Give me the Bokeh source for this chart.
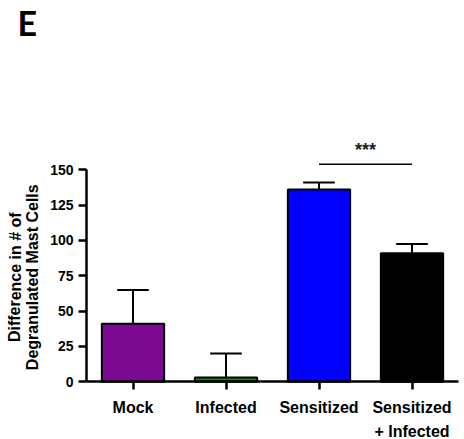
from bokeh.plotting import figure
from bokeh.models import FixedTicker, Label, Range1d, LinearAxis
from bokeh.embed import file_html
from bokeh.resources import INLINE

categories = ["Mock", "Infected", "Sensitized", "Sensitized\n+ Infected"]
means = [41, 3, 136, 91]
err_upper = [65, 20, 141, 97.5]
colors = ["#7b0a91", "#0b8a0b", "#0000ff", "#000000"]
sig_pair = [2, 3]
sig_y = 154
sig_text = "***"
y_ticks = [0, 25, 50, 75, 100, 125, 150]
y_max_tick = 150
panel_letter = "E"
y_label_lines = ["Difference in # of", "Degranulated Mast Cells"]

FONT = "Liberation Sans"
W, H = 464, 439

xs = list(range(len(categories)))

# pixel geometry of the plotting area (page coords)
AX_LEFT, AX_RIGHT = 86.0, 458.0     # x of -0.5 and 3.5
AX_ZERO, AX_150 = 381.3, 169.3      # y of 0 and 150
px_x = (AX_RIGHT - AX_LEFT) / 4.0
px_y = (AX_ZERO - AX_150) / 150.0

def dx(px):
    return -0.5 + (px - AX_LEFT) / px_x

def dy(py):
    return (AX_ZERO - py) / px_y

p = figure(width=W, height=H, output_backend="svg", toolbar_location=None,
           x_range=Range1d(dx(0), dx(W)), y_range=Range1d(dy(H), dy(0)),
           x_axis_type=None, y_axis_type=None, min_border=0)
p.outline_line_color = None
p.background_fill_color = "white"
p.border_fill_color = "white"
p.xgrid.visible = False
p.ygrid.visible = False

# bars
p.vbar(x=xs, top=means, bottom=0, width=0.67, fill_color=colors,
       line_color="black", line_width=2)

# error bars (upper only)
p.segment(x0=xs, y0=means, x1=xs, y1=err_upper, line_color="black", line_width=2)
p.segment(x0=[x - 0.17 for x in xs], y0=err_upper, x1=[x + 0.17 for x in xs],
          y1=err_upper, line_color="black", line_width=2)

# significance
p.segment(x0=[sig_pair[0]], y0=[sig_y], x1=[sig_pair[1]], y1=[sig_y],
          line_color="black", line_width=1.5)
p.add_layout(Label(x=(sig_pair[0] + sig_pair[1]) / 2, y=dy(149), text=sig_text,
                   text_align="center", text_baseline="alphabetic",
                   text_font=FONT, text_font_style="bold", text_font_size="18px",
                   text_color="#222222"))

# axes, fixed inside the canvas-wide frame
xa = LinearAxis(fixed_location=0, bounds=(-0.5, 3.5))
xa.ticker = FixedTicker(ticks=xs)
xa.major_label_overrides = {i: c for i, c in enumerate(categories)}
xa.minor_tick_line_color = None
xa.axis_line_width = 2.5
xa.major_tick_line_width = 2.5
xa.major_tick_out = 8
xa.major_tick_in = 0
xa.major_label_standoff = 9
xa.major_label_text_font = FONT
xa.major_label_text_font_style = "bold"
xa.major_label_text_font_size = "16px"
xa.major_label_text_color = "black"
xa.major_label_text_line_height = 1.4
p.add_layout(xa, "below")

ya = LinearAxis(fixed_location=-0.5, bounds=(0, y_max_tick))
ya.ticker = FixedTicker(ticks=y_ticks)
ya.minor_tick_line_color = None
ya.axis_line_width = 2.5
ya.major_tick_line_width = 2.5
ya.major_tick_out = 8
ya.major_tick_in = 0
ya.major_label_standoff = 5
ya.major_label_text_font = FONT
ya.major_label_text_font_style = "bold"
ya.major_label_text_font_size = "14px"
ya.major_label_text_color = "black"
p.add_layout(ya, "left")

# y axis label (two lines)
for px, line in zip([14.5, 32.0], y_label_lines):
    p.add_layout(Label(x=dx(px), y=y_max_tick / 2 - 1, text=line,
                       angle=1.5707963, angle_units="rad",
                       text_align="center", text_baseline="alphabetic",
                       text_font=FONT, text_font_style="bold", text_font_size="16px",
                       text_color="black"))

# panel letter
p.add_layout(Label(x=dx(17), y=dy(1), text=panel_letter, text_align="left",
                   text_baseline="top", text_font="Lato",
                   text_font_style="bold", text_font_size="34px", text_color="black"))

open("out.html", "w").write(file_html(p, INLINE))
